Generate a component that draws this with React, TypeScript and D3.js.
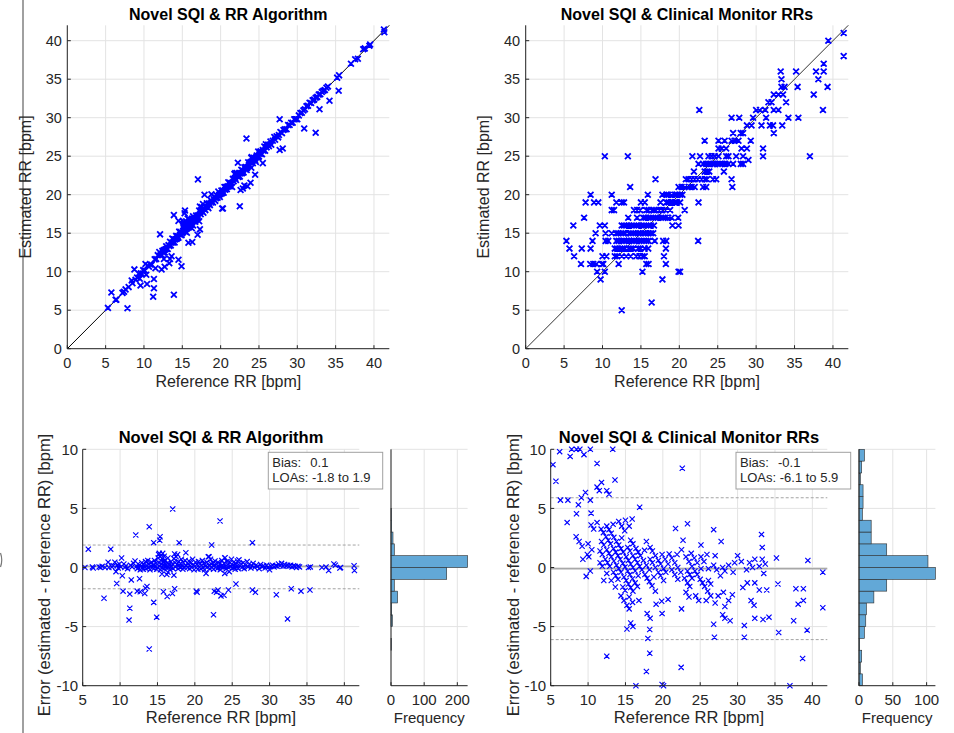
import React from "react";
import * as d3 from "d3";

const FONT = "'Liberation Sans', Arial, Helvetica, sans-serif";
const TXT = "#262626";
const GRID = "#e3e3e3";
const BLUE = "#0000ff";

// ---------- Data ----------
// Novel SQI & RR algorithm: [reference RR, estimated - reference]
const algPoints: [number, number][] = [
  [5.3, 0.0], [5.75, 1.55], [6.3, 0.05], [6.4, -0.05], [7.2, 0.05], [7.4, 0.0], [7.6, 0.1], [7.85, -2.6],
  [8.0, 0.0], [8.4, 0.45], [8.5, 0.0], [8.75, 1.55], [8.9, 0.05], [9.1, 0.15], [9.3, 0.45], [9.45, -0.35],
  [9.55, -1.35], [9.6, 0.2], [9.75, -0.05], [9.9, 0.3], [10.1, 0.05], [10.2, 0.8], [10.3, -0.7], [10.4, -2.0],
  [10.5, 0.3], [10.65, 0.0], [10.8, 0.15], [11.0, -0.1], [11.2, -4.45], [11.3, -3.45], [11.3, -2.25], [11.5, -1.05],
  [11.4, 0.2], [11.6, 0.05], [11.8, 0.35], [12.0, 0.55], [12.1, 2.75], [12.3, -2.0], [12.6, -0.95], [12.7, -2.05],
  [13.3, -2.2], [13.4, -1.75], [13.6, -1.6], [13.9, 3.45], [13.9, -6.9], [14.5, 2.1], [14.5, -2.95], [14.9, -4.2],
  [15.3, 2.3], [15.35, 2.6], [15.6, -0.55], [15.8, -2.05], [16.25, -0.6], [16.3, -2.45], [16.4, -0.4], [17.0, -2.2],
  [17.04, 4.95], [17.2, -0.65], [17.3, -1.8], [17.9, 2.1], [18.8, 1.25], [20.2, -2.0], [20.3, -2.1], [21.5, -0.5],
  [21.9, 0.9], [22.25, 1.9], [22.5, -4.0], [22.6, -2.0], [22.9, -2.1], [23.1, -1.9], [23.37, 3.93], [23.5, -2.4],
  [23.9, -2.35], [24.0, -0.5], [24.05, 0.83], [24.5, -1.9], [24.9, 0.7], [25.5, -1.4], [25.9, 0.65], [27.7, 2.1],
  [27.7, -1.9], [28.1, -2.1], [30.9, -2.3], [32.4, -4.35], [32.9, -1.8], [34.2, -2.0], [35.4, -1.9],
  [12.2, 0.1], [12.3, -0.1], [12.4, 0.3], [12.5, 0.0], [12.6, 0.2], [12.7, -0.2], [12.8, 0.1], [12.9, 0.4],
  [13.0, 0.0], [13.1, -0.15], [13.2, 0.25], [13.3, 0.05], [13.4, 0.5], [13.5, -0.1], [13.6, 0.15], [13.7, 0.6],
  [13.8, 0.0], [13.9, 0.3], [14.0, -0.2], [14.1, 0.1], [14.2, 0.45], [14.3, 0.0], [14.4, 0.2], [14.5, -0.1],
  [14.6, 0.6], [14.7, 0.1], [14.8, 0.35], [14.9, -0.15], [15.0, 0.0], [15.1, 0.8], [15.15, 1.1], [15.2, 0.4],
  [15.25, 1.2], [15.3, 0.1], [15.35, 0.9], [15.4, -0.2], [15.45, 0.6], [15.5, 1.05], [15.55, 0.3], [15.6, 0.0],
  [15.65, 0.75], [15.7, 1.2], [15.75, 0.2], [15.8, 0.5], [15.85, -0.1], [15.9, 0.95], [15.95, 0.3], [16.0, 0.1],
  [16.1, 0.6], [16.2, -0.05], [16.3, 0.35], [16.4, 0.8], [16.5, 0.05], [16.6, 0.25], [16.7, -0.2], [16.8, 0.5],
  [16.9, 0.1], [17.0, 0.3], [17.1, -0.1], [17.2, 0.75], [17.3, 1.15], [17.35, 0.4], [17.4, 0.05], [17.5, 0.9],
  [17.6, 0.25], [17.7, 1.1], [17.75, -0.1], [17.8, 0.5], [17.9, 0.2], [18.0, 0.0], [18.1, 0.35], [18.2, 0.7],
  [18.3, 0.1], [18.4, -0.15], [18.5, 0.4], [18.6, 0.05], [18.7, 0.6], [18.8, 0.2], [19.0, 0.0], [19.1, 0.3],
  [19.2, 0.55], [19.3, -0.1], [19.4, 0.15], [19.5, 0.4], [19.6, 0.0], [19.7, 0.7], [19.8, 0.2], [19.9, -0.2],
  [20.0, 0.1], [20.1, 0.45], [20.2, 0.0], [20.3, 0.25], [20.4, -0.15], [20.5, 0.5], [20.6, 0.05], [20.7, 0.3],
  [20.8, -0.1], [20.9, 0.2], [21.0, 0.6], [21.1, 0.0], [21.2, 0.35], [21.3, -0.2], [21.4, 0.1], [21.6, 0.45],
  [21.7, 0.05], [21.8, 0.9], [21.9, 0.2], [22.0, -0.1], [22.1, 0.7], [22.2, 0.3], [22.3, 0.0], [22.4, 0.4],
  [22.5, -0.15], [22.6, 0.15], [22.7, 0.55], [22.8, 0.0], [22.9, 0.25], [23.0, -0.1], [23.1, 0.45], [23.2, 0.1],
  [23.3, 0.3], [23.4, -0.2], [23.5, 0.05], [23.6, 0.6], [23.7, 0.2], [23.8, 0.0], [23.9, 0.35], [24.0, 0.8],
  [24.1, 0.1], [24.2, -0.1], [24.3, 0.5], [24.4, 0.25], [24.5, 0.0], [24.6, -0.35], [24.7, 0.4], [24.8, 0.1],
  [24.9, 0.7], [25.0, -0.05], [25.1, 0.2], [25.2, 0.45], [25.3, 0.0], [25.4, -0.15], [25.5, 0.3], [25.6, 0.1],
  [25.7, 0.55], [25.8, -0.1], [25.9, 0.65], [26.0, 0.15], [26.2, 0.3], [26.3, 0.0], [26.5, 0.4], [26.6, -0.1],
  [26.8, 0.2], [27.0, 0.5], [27.1, 0.05], [27.3, 0.3], [27.5, -0.05], [27.6, 0.15], [27.8, 0.35], [28.0, 0.0],
  [28.2, 0.2], [28.4, 0.1], [28.6, -0.1], [28.8, 0.25], [29.0, 0.05], [29.2, 0.15], [29.4, -0.05], [29.6, 0.2],
  [29.8, 0.0], [30.0, -0.2], [30.2, 0.1], [30.4, 0.2], [30.6, 0.05], [30.8, 0.15], [31.0, 0.1], [31.2, 0.3],
  [31.4, 0.15], [31.6, 0.35], [31.8, 0.1], [32.0, 0.25], [32.2, 0.15], [32.4, 0.2], [32.6, 0.1], [32.8, 0.2],
  [33.0, 0.05], [33.2, 0.15], [33.4, 0.1], [33.6, 0.0], [33.8, 0.1], [34.0, 0.05], [35.2, 0.0], [35.45, 0.05],
  [37.0, 0.0], [37.55, 0.05], [37.9, -0.25], [38.6, 0.3], [38.8, 0.2], [39.4, -0.05], [39.5, 0.0], [41.3, 0.15],
  [41.35, -0.25],
];

// Clinical monitor RRs (integer estimates) grouped by estimate, with their reference RRs
const monRows: { est: number; refs: number[] }[] = [
  { est: 41, refs: [41.4] },
  { est: 40, refs: [39.4] },
  { est: 38, refs: [41.4] },
  { est: 37, refs: [38.8] },
  { est: 36, refs: [33.2, 35.2, 37.8, 38.8] },
  { est: 35, refs: [33.3, 38.1] },
  { est: 34, refs: [33.3, 33.7, 35.4, 39.3] },
  { est: 33, refs: [32.3, 32.9, 33.5, 37.5] },
  { est: 32, refs: [31.6, 32.0, 33.9] },
  { est: 31, refs: [22.6, 30.0, 30.5, 31.2, 32.3, 32.9, 38.7] },
  { est: 30, refs: [26.8, 27.8, 29.6, 31.3, 34.2, 35.5] },
  { est: 29, refs: [28.8, 29.4, 30.7, 31.8, 32.2, 33.4] },
  { est: 28, refs: [27.0, 28.0, 28.3, 32.3] },
  { est: 27, refs: [23.3, 25.1, 25.9, 26.8, 27.2, 27.7, 29.3] },
  { est: 26, refs: [25.1, 25.5, 26.1, 28.1, 28.8, 30.9] },
  { est: 25, refs: [10.3, 13.3, 21.7, 22.7, 23.8, 24.2, 24.6, 25.1, 26.1, 26.4, 27.4, 28.3, 30.9, 37.0] },
  { est: 24.5, refs: [29.0] },
  { est: 24, refs: [22.5, 23.1, 23.5, 23.9, 24.3, 24.6, 25.0, 25.3, 25.6, 26.0, 26.4, 27.0, 28.0, 28.3] },
  { est: 23, refs: [21.9, 23.3, 23.6, 23.9, 25.8] },
  { est: 22, refs: [16.9, 20.85, 21.2, 21.6, 22.0, 22.4, 22.9, 23.3, 23.6, 24.4, 24.8, 26.8] },
  { est: 21, refs: [13.6, 19.9, 20.3, 20.7, 21.2, 21.6, 22.0, 23.1, 23.5, 26.9] },
  { est: 20, refs: [8.45, 11.2, 15.9, 17.8, 18.3, 18.6, 19.0, 19.4, 19.7, 20.1, 20.4] },
  { est: 19, refs: [7.8, 8.9, 9.45, 11.8, 12.5, 12.8, 15.0, 15.5, 17.55, 18.3, 18.6, 19.0, 19.4, 19.7, 20.1, 22.5] },
  { est: 18, refs: [11.2, 11.5, 14.1, 14.5, 14.9, 15.7, 16.0, 16.4, 16.7, 17.0, 17.4, 17.8, 18.2, 18.8, 20.7] },
  { est: 17, refs: [7.6, 13.35, 14.5, 15.3, 15.6, 16.0, 16.3, 16.6, 16.9, 17.2, 17.6, 17.9, 18.2, 18.55, 19.0, 19.85] },
  { est: 16, refs: [6.2, 9.65, 10.3, 12.5, 12.8, 13.1, 13.45, 13.8, 14.1, 14.4, 14.7, 15.1, 15.4, 15.7, 16.0, 16.3, 16.7, 19.1, 19.9] },
  { est: 15, refs: [9.1, 10.4, 11.2, 11.75, 12.05, 12.4, 12.7, 13.0, 13.4, 13.7, 14.0, 14.3, 14.65, 14.95, 15.3, 15.6, 15.95, 16.3, 16.6] },
  { est: 14, refs: [5.3, 8.7, 10.4, 10.75, 11.8, 12.1, 12.5, 12.8, 13.1, 13.45, 13.8, 14.1, 14.4, 14.8, 15.1, 15.4, 15.7, 16.0, 16.8, 17.9, 18.3, 22.45] },
  { est: 13, refs: [5.7, 7.3, 8.45, 11.6, 11.9, 12.3, 12.6, 12.9, 13.4, 13.7, 14.0, 14.65, 14.95, 15.5, 15.95, 18.25] },
  { est: 12, refs: [6.3, 10.0, 10.5, 11.6, 11.9, 12.5, 13.1, 13.65, 14.4, 14.8, 15.2, 15.5, 18.0] },
  { est: 11, refs: [7.2, 8.4, 8.8, 9.2, 9.9, 10.1, 12.1, 15.7, 16.0, 18.25] },
  { est: 10, refs: [9.3, 10.3, 15.2, 19.9, 20.1] },
  { est: 9, refs: [9.75, 17.8] },
  { est: 6, refs: [16.4] },
  { est: 5, refs: [12.5] },
];

// Histogram bins of the error (from -10 to 10, width 1) and counts
const histEdges = [-10, -9, -8, -7, -6, -5, -4, -3, -2, -1, 0, 1, 2, 3, 4, 5, 6, 7, 8, 9, 10];
const algHistCounts = [0, 0, 0, 1, 0, 4, 2, 20, 10, 168, 231, 10, 6, 2, 1, 0, 0, 0, 0, 0];
const monHistCounts = [5, 2, 4, 1, 8, 10, 11, 22, 41, 113, 102, 41, 18, 18, 5, 6, 6, 2, 4, 8];

const algBias = 0.1, algLoaLow = -1.8, algLoaHigh = 1.9;
const monBias = -0.1, monLoaLow = -6.1, monLoaHigh = 5.9;

const scatterTicks = [0, 5, 10, 15, 20, 25, 30, 35, 40];
const baXTicks = [5, 10, 15, 20, 25, 30, 35, 40];
const baYTicks = [-10, -5, 0, 5, 10];
const algHistTicks = [0, 100, 200];
const monHistTicks = [0, 50, 100];

// ---------- Derived ----------
const algRef = algPoints.map((p) => p[0]);
const algDiff = algPoints.map((p) => p[1]);
const algEst = algPoints.map((p) => p[0] + p[1]);
const monRef: number[] = [];
const monEst: number[] = [];
monRows.forEach((r) => r.refs.forEach((v) => { monRef.push(v); monEst.push(r.est); }));
const monDiff = monRef.map((v, i) => Math.max(-10, Math.min(10, monEst[i] - v)));

type Box = { x0: number; x1: number; y0: number; y1: number };

function markPath(xs: number[], ys: number[], h: number) {
  let d = "";
  for (let i = 0; i < xs.length; i++) {
    const x = xs[i], y = ys[i];
    d += `M${(x - h).toFixed(2)},${(y - h).toFixed(2)}L${(x + h).toFixed(2)},${(y + h).toFixed(2)}M${(x - h).toFixed(2)},${(y + h).toFixed(2)}L${(x + h).toFixed(2)},${(y - h).toFixed(2)}`;
  }
  return d;
}

function ScatterPanel(props: { box: Box; refs: number[]; ests: number[]; title: string; ylabX: number; diagColor: string }) {
  const { box, refs, ests, title, ylabX, diagColor } = props;
  const xs = d3.scaleLinear().domain([0, 42]).range([box.x0, box.x1]);
  const ys = d3.scaleLinear().domain([0, 42]).range([box.y0, box.y1]);
  const fs = 14.5;
  return (
    <g fontFamily={FONT}>
      {scatterTicks.map((t) => (
        <line key={"gx" + t} x1={xs(t)} x2={xs(t)} y1={box.y0} y2={box.y1} stroke={GRID} strokeWidth={1} />
      ))}
      {scatterTicks.map((t) => (
        <line key={"gy" + t} x1={box.x0} x2={box.x1} y1={ys(t)} y2={ys(t)} stroke={GRID} strokeWidth={1} />
      ))}
      <line x1={xs(0)} y1={ys(0)} x2={xs(42)} y2={ys(42)} stroke={diagColor} strokeWidth={1} />
      <path d={markPath(refs.map((v) => xs(v)), ests.map((v) => ys(v)), 2.9)} stroke={BLUE} strokeWidth={1.8} fill="none" />
      <line x1={box.x0} x2={box.x0} y1={box.y0} y2={box.y1} stroke={TXT} strokeWidth={1} />
      <line x1={box.x0} x2={box.x1} y1={box.y0} y2={box.y0} stroke={TXT} strokeWidth={1} />
      {scatterTicks.map((t) => (
        <g key={"t" + t}>
          <line x1={xs(t)} x2={xs(t)} y1={box.y0} y2={box.y0 - 3.5} stroke={TXT} />
          <line x1={box.x0} x2={box.x0 + 3.5} y1={ys(t)} y2={ys(t)} stroke={TXT} />
          <text x={xs(t)} y={box.y0 + 19.5} textAnchor="middle" fontSize={fs} fill={TXT}>{t}</text>
          <text x={box.x0 - 5.5} y={ys(t) + 5} textAnchor="end" fontSize={fs} fill={TXT}>{t}</text>
        </g>
      ))}
      <text x={(box.x0 + box.x1) / 2} y={19.5} textAnchor="middle" fontSize={16} fontWeight="bold" fill="#000">{title}</text>
      <text x={(box.x0 + box.x1) / 2} y={387} textAnchor="middle" fontSize={16} fill={TXT}>Reference RR [bpm]</text>
      <text transform={`translate(${ylabX},${(box.y0 + box.y1) / 2}) rotate(-90)`} textAnchor="middle" fontSize={16} fill={TXT}>Estimated RR [bpm]</text>
    </g>
  );
}

function BAPanel(props: {
  box: Box; refs: number[]; diffs: number[]; bias: number; lo: number; hi: number; title: string; ylabX: number;
  leg: { x: number; w: number; bias: string; loa: string };
}) {
  const { box, refs, diffs, bias, lo, hi, title, ylabX, leg } = props;
  const xs = d3.scaleLinear().domain([5, 42]).range([box.x0, box.x1]);
  const ys = d3.scaleLinear().domain([-10, 10]).range([box.y0, box.y1]);
  const fs = 15;
  return (
    <g fontFamily={FONT}>
      {baXTicks.map((t) => (
        <line key={"gx" + t} x1={xs(t)} x2={xs(t)} y1={box.y0} y2={box.y1} stroke={GRID} strokeWidth={1} />
      ))}
      {baYTicks.map((t) => (
        <line key={"gy" + t} x1={box.x0} x2={box.x1} y1={ys(t)} y2={ys(t)} stroke={GRID} strokeWidth={1} />
      ))}
      <line x1={box.x0} x2={box.x1} y1={ys(hi)} y2={ys(hi)} stroke="#a3a3a3" strokeWidth={1} strokeDasharray="3,2" />
      <line x1={box.x0} x2={box.x1} y1={ys(lo)} y2={ys(lo)} stroke="#a3a3a3" strokeWidth={1} strokeDasharray="3,2" />
      <line x1={box.x0} x2={box.x1} y1={ys(bias)} y2={ys(bias)} stroke="#a8a8a8" strokeWidth={1.6} />
      <path d={markPath(refs.map((v) => xs(v)), diffs.map((v) => ys(v)), 2.6)} stroke={BLUE} strokeWidth={1.15} fill="none" />
      <line x1={box.x0} x2={box.x0} y1={box.y0} y2={box.y1} stroke={TXT} strokeWidth={1} />
      <line x1={box.x0} x2={box.x1} y1={box.y0} y2={box.y0} stroke={TXT} strokeWidth={1} />
      {baXTicks.map((t) => (
        <g key={"tx" + t}>
          <line x1={xs(t)} x2={xs(t)} y1={box.y0} y2={box.y0 - 3.5} stroke={TXT} />
          <text x={xs(t)} y={704.5} textAnchor="middle" fontSize={fs} fill={TXT}>{t}</text>
        </g>
      ))}
      {baYTicks.map((t) => (
        <g key={"ty" + t}>
          <line x1={box.x0} x2={box.x0 + 3.5} y1={ys(t)} y2={ys(t)} stroke={TXT} />
          <text x={box.x0 - 4.5} y={ys(t) + 5.2} textAnchor="end" fontSize={fs} fill={TXT}>{t}</text>
        </g>
      ))}
      <text x={(box.x0 + box.x1) / 2} y={442.7} textAnchor="middle" fontSize={16.5} fontWeight="bold" fill="#000">{title}</text>
      <text x={(box.x0 + box.x1) / 2} y={722.5} textAnchor="middle" fontSize={16.5} fill={TXT}>Reference RR [bpm]</text>
      <text transform={`translate(${ylabX},575) rotate(-90)`} textAnchor="middle" fontSize={16.5} fill={TXT}>Error (estimated - reference RR) [bpm]</text>
      <rect x={leg.x} y={452.3} width={leg.w} height={36.7} fill="#fff" stroke="#a0a0a0" strokeWidth={1} />
      <text x={leg.x + 4} y={466.5} fontSize={13} fill={TXT}>Bias:</text>
      <text x={leg.x + 42} y={466.5} fontSize={13} fill={TXT}>{leg.bias}</text>
      <text x={leg.x + 4} y={481.5} fontSize={13} fill={TXT}>{leg.loa}</text>
    </g>
  );
}

function HistPanel(props: { box: Box; counts: number[]; ticks: number[]; max: number }) {
  const { box, counts, ticks, max } = props;
  const xs = d3.scaleLinear().domain([0, max]).range([box.x0, box.x1]);
  const ys = d3.scaleLinear().domain([-10, 10]).range([box.y0, box.y1]);
  return (
    <g fontFamily={FONT}>
      {ticks.map((t) => (
        <line key={"gx" + t} x1={xs(t)} x2={xs(t)} y1={box.y0} y2={box.y1} stroke={GRID} strokeWidth={1} />
      ))}
      {baYTicks.map((t) => (
        <line key={"gy" + t} x1={box.x0} x2={box.x1} y1={ys(t)} y2={ys(t)} stroke={GRID} strokeWidth={1} />
      ))}
      {counts.map((c, i) =>
        c > 0 ? (
          <rect key={"b" + i} x={xs(0)} y={ys(histEdges[i + 1])} width={xs(c) - xs(0)} height={ys(histEdges[i]) - ys(histEdges[i + 1])}
            fill="rgb(98,168,215)" stroke="#2a2a2a" strokeWidth={0.6} />
        ) : null
      )}
      <line x1={box.x0} x2={box.x0} y1={box.y0} y2={box.y1} stroke={TXT} strokeWidth={1} />
      <line x1={box.x0} x2={box.x1} y1={box.y0} y2={box.y0} stroke={TXT} strokeWidth={1} />
      {ticks.map((t) => (
        <g key={"t" + t}>
          <line x1={xs(t)} x2={xs(t)} y1={box.y0} y2={box.y0 - 3.5} stroke={TXT} />
          <text x={xs(t)} y={704.5} textAnchor="middle" fontSize={15} fill={TXT}>{t}</text>
        </g>
      ))}
      <text x={(box.x0 + box.x1) / 2} y={722.5} textAnchor="middle" fontSize={15} fill={TXT}>Frequency</text>
    </g>
  );
}

export default function App() {
  const tl: Box = { x0: 67.3, x1: 389.3, y0: 348.7, y1: 25.3 };
  const tr: Box = { x0: 525.7, x1: 848.3, y0: 348.7, y1: 25.3 };
  const bl: Box = { x0: 82.7, x1: 359.3, y0: 685.7, y1: 449.3 };
  const blh: Box = { x0: 391, x1: 467.6, y0: 685.7, y1: 449.3 };
  const br: Box = { x0: 550.7, x1: 827.3, y0: 685.7, y1: 449.3 };
  const brh: Box = { x0: 859, x1: 935.4, y0: 685.7, y1: 449.3 };
  return (
    <svg width={954} height={733} viewBox="0 0 954 733" style={{ position: "absolute", left: 0, top: 0, background: "#fff" }}>
      <rect x={0} y={0} width={954} height={733} fill="#fff" />
      <line x1={23} x2={23} y1={0} y2={733} stroke="#a0a0a0" strokeWidth={2} />
      <path d="M0.5,553 Q3,560 0.5,567" stroke="#777" strokeWidth={1.2} fill="none" />
      <ScatterPanel box={tl} refs={algRef} ests={algEst} title="Novel SQI & RR Algorithm" ylabX={30.5} diagColor="#000" />
      <ScatterPanel box={tr} refs={monRef} ests={monEst} title="Novel SQI & Clinical Monitor RRs" ylabX={489} diagColor="#333" />
      <BAPanel box={bl} refs={algRef} diffs={algDiff} bias={algBias} lo={algLoaLow} hi={algLoaHigh}
        title="Novel SQI & RR Algorithm" ylabX={50}
        leg={{ x: 268.3, w: 114.4, bias: `${algBias}`, loa: `LOAs: ${algLoaLow} to ${algLoaHigh}` }} />
      <HistPanel box={blh} counts={algHistCounts} ticks={algHistTicks} max={d3.max(algHistCounts) as number} />
      <BAPanel box={br} refs={monRef} diffs={monDiff} bias={monBias} lo={monLoaLow} hi={monLoaHigh}
        title="Novel SQI & Clinical Monitor RRs" ylabX={518.5}
        leg={{ x: 736, w: 114.7, bias: `${monBias}`, loa: `LOAs: ${monLoaLow} to ${monLoaHigh}` }} />
      <HistPanel box={brh} counts={monHistCounts} ticks={monHistTicks} max={d3.max(monHistCounts) as number} />
    </svg>
  );
}
